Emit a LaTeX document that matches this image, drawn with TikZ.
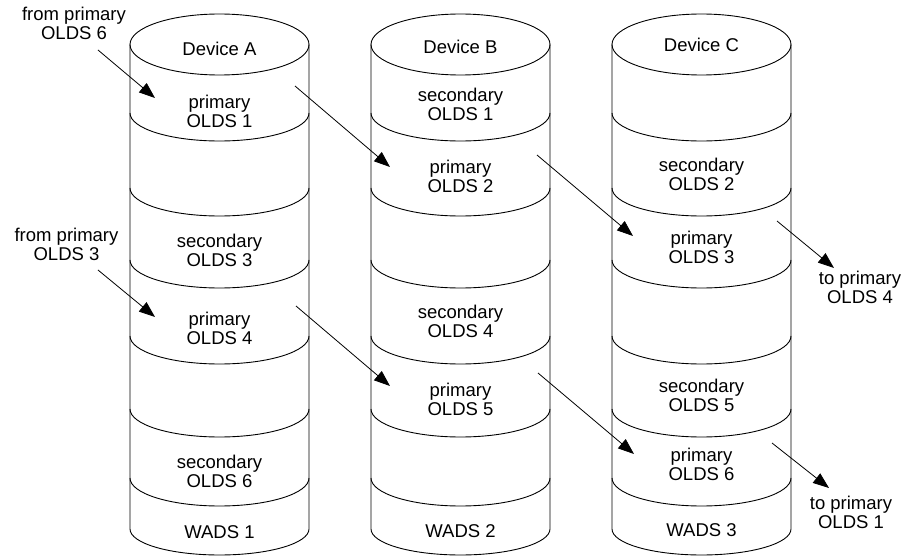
\documentclass[tikz,border=0pt]{standalone}
\usepackage{fontspec}
\setmainfont{Liberation Sans}
\usetikzlibrary{arrows.meta}
\begin{document}
\begin{tikzpicture}[x=1pt,y=-1pt,
  disk/.style={line width=0.9pt},
  lbl/.style={align=center,font=\fontsize{18.5}{19}\selectfont,inner sep=0pt},
  flow/.style={line width=0.8pt,-{Triangle[length=16pt,width=12pt]}}]
\useasboundingbox (0,0) rectangle (906,556);

% three disk cylinders, each cut into seven bands
\foreach \cx in {219.5,460.5,701.5}{
  \draw[disk] (\cx,44.5) ellipse [x radius=89.5pt, y radius=30.5pt];
  \draw[disk] (\cx-89.5,44.5) -- (\cx-89.5,529)
    arc[start angle=180,end angle=360,x radius=89.5pt,y radius=26pt]
    -- (\cx+89.5,44.5);
  \foreach \y in {113,188,260,336,409,478}
    \draw[disk] (\cx-89.5,\y) arc[start angle=180,end angle=360,x radius=89.5pt,y radius=28pt];
}

% Device A
\node[lbl] (devA) at (219.5,49) {Device A};
\node[lbl] (a1) at (219.5,111) {primary\\OLDS 1};
\node[lbl] (a3) at (219.5,250) {secondary\\OLDS 3};
\node[lbl] (a4) at (219.5,328.5) {primary\\OLDS 4};
\node[lbl] (a6) at (219.5,471) {secondary\\OLDS 6};
\node[lbl] (w1) at (219.5,532) {WADS 1};

% Device B
\node[lbl] (devB) at (460.5,47) {Device B};
\node[lbl] (b1) at (460.5,104) {secondary\\OLDS 1};
\node[lbl] (b2) at (460.5,176.5) {primary\\OLDS 2};
\node[lbl] (b4) at (460.5,321) {secondary\\OLDS 4};
\node[lbl] (b5) at (460.5,399) {primary\\OLDS 5};
\node[lbl] (w2) at (460.5,531) {WADS 2};

% Device C
\node[lbl] (devC) at (701.5,45) {Device C};
\node[lbl] (c2) at (701.5,174) {secondary\\OLDS 2};
\node[lbl] (c3) at (701.5,247) {primary\\OLDS 3};
\node[lbl] (c5) at (701.5,395) {secondary\\OLDS 5};
\node[lbl] (c6) at (701.5,464.5) {primary\\OLDS 6};
\node[lbl] (w3) at (701.5,530) {WADS 3};

% outside labels
\node[lbl] (from6) at (74,23.5) {from primary\\OLDS 6};
\node[lbl] (from3) at (66.5,244) {from primary\\OLDS 3};
\node[lbl] (to4) at (860,287.5) {to primary\\OLDS 4};
\node[lbl] (to1) at (851,512) {to primary\\OLDS 1};

% arrow end points
\coordinate (s1) at (98,50);   \coordinate (t1) at (155,98);
\coordinate (s2) at (295,86);  \coordinate (t2) at (390,167);
\coordinate (s3) at (537,155); \coordinate (t3) at (633,236);
\coordinate (s4) at (777,221); \coordinate (t4) at (834,268);
\coordinate (s5) at (98,270);  \coordinate (t5) at (155,317);
\coordinate (s6) at (296,306); \coordinate (t6) at (390,386);
\coordinate (s7) at (538,373); \coordinate (t7) at (634,454);
\coordinate (s8) at (772,443); \coordinate (t8) at (829,488);

\foreach \i in {1,...,8}
  \draw[flow] (s\i) -- (t\i);
\end{tikzpicture}
\end{document}
